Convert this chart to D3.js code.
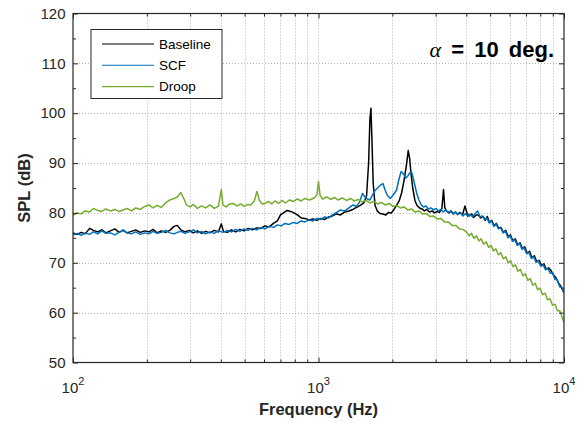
<!DOCTYPE html>
<html>
<head>
<meta charset="utf-8">
<script src="https://cdn.jsdelivr.net/npm/d3@7"></script>
<style>
  body { margin: 0; background: #fff; }
  svg { display: block; font-family: "Liberation Sans", Arial, Helvetica, sans-serif; }
  .grid line { stroke: #b4b4b4; stroke-width: 1; stroke-dasharray: 1 2; }
  .tick line { stroke: #262626; }
  .series { fill: none; stroke-width: 1.5; stroke-linejoin: round; }
</style>
</head>
<body>
<script>
// spectra, [frequency Hz, SPL dB]
var baseline = [
  [100,76.0],[104,75.7],[108,76.1],[112,75.8],[117,76.9],[121,76.5],[126,76.2],[131,76.6],[136,76.0],[142,76.4],
  [148,76.8],[154,76.1],[160,76.5],[166,76.0],[173,76.3],[180,76.6],[188,76.1],[196,76.4],[204,76.2],[212,76.7],
  [220,76.0],[229,76.4],[238,76.1],[248,76.5],[258,77.3],[266,77.5],[275,76.6],[286,76.2],[297,76.5],[309,76.0],
  [321,76.4],[334,75.9],[347,76.3],[361,76.0],[376,76.5],[391,76.2],[402,77.8],[410,76.3],[425,76.1],[442,76.6],
  [460,76.2],[478,76.7],[497,76.4],[517,76.9],[538,76.6],[560,77.0],[582,76.9],[605,77.4],[630,77.2],[655,77.9],
  [680,78.4],[700,79.6],[720,80.0],[745,80.5],[770,80.3],[795,80.0],[820,79.6],[850,79.0],[880,78.9],[915,78.6],
  [950,78.8],[985,78.5],[1020,78.9],[1060,78.7],[1100,79.2],[1140,79.4],[1185,79.8],[1230,79.6],[1280,80.2],[1330,80.4],
  [1380,80.7],[1430,81.1],[1480,81.5],[1530,82.0],[1570,83.5],[1600,90.0],[1620,99.0],[1635,101.0],[1650,95.0],[1670,86.0],
  [1700,81.5],[1740,80.3],[1780,79.9],[1830,79.8],[1880,79.6],[1930,80.1],[1980,80.0],[2030,80.7],[2080,81.5],[2130,82.4],
  [2180,84.0],[2230,86.5],[2280,89.5],[2320,92.5],[2350,91.0],[2380,88.0],[2420,85.0],[2470,82.5],[2520,81.5],[2580,81.0],
  [2640,80.8],[2700,80.4],[2760,80.7],[2830,80.2],[2900,80.4],[2970,80.0],[3040,80.3],[3110,80.1],[3180,80.8],[3230,84.7],
  [3270,81.0],[3330,80.3],[3400,80.0],[3470,80.4],[3540,79.8],[3610,80.2],[3690,79.7],[3770,80.1],[3860,79.6],[3950,81.4],
  [4030,79.9],[4110,79.4],[4200,79.8],[4290,79.1],[4380,79.6],[4480,79.6],[4580,79.0],[4680,79.3],[4780,78.5],[4870,79.3],
  [4970,78.1],[5080,78.5],[5190,77.4],[5300,77.9],[5420,76.9],[5540,77.1],[5660,76.1],[5790,76.5],[5920,75.2],[6050,75.6],
  [6190,74.4],[6330,74.8],[6470,73.6],[6620,74.0],[6770,72.8],[6920,73.2],[7080,71.9],[7240,72.3],[7400,71.0],[7570,71.4],
  [7740,70.2],[7920,70.5],[8100,69.4],[8280,69.8],[8470,68.7],[8660,69.0],[8860,68.4],[9060,67.6],[9270,67.0],[9480,66.0],
  [9700,65.3],[10000,64.0]
];

var scf = [
  [100,75.6],[104,75.9],[108,75.5],[112,76.0],[117,75.7],[121,76.2],[126,75.8],[131,76.4],[136,75.9],[142,76.0],
  [148,75.6],[154,76.1],[160,76.6],[166,76.0],[173,75.8],[180,76.2],[188,75.7],[196,76.0],[204,75.8],[212,76.3],
  [220,75.9],[229,76.1],[238,76.5],[248,76.0],[258,75.8],[266,76.1],[275,76.3],[286,75.9],[297,76.2],[309,76.6],
  [321,76.0],[334,76.3],[347,75.8],[361,76.2],[376,75.9],[391,76.4],[410,76.1],[425,76.5],[442,76.2],[460,76.7],
  [478,76.3],[497,76.8],[517,76.5],[538,76.9],[560,76.6],[582,77.1],[605,76.8],[630,77.3],[655,77.1],[680,77.6],
  [705,77.4],[730,77.9],[760,77.7],[790,78.1],[820,77.9],[850,78.4],[880,78.2],[915,78.6],[950,78.4],[985,78.9],
  [1020,78.7],[1060,79.2],[1100,79.0],[1140,79.6],[1185,80.1],[1230,80.6],[1280,80.4],[1330,81.0],[1380,81.6],[1430,81.3],
  [1470,82.2],[1510,83.9],[1545,83.2],[1580,82.8],[1620,82.6],[1660,83.6],[1700,84.5],[1740,85.0],[1790,85.6],[1830,85.9],
  [1870,84.5],[1910,83.5],[1960,82.9],[2000,83.4],[2040,84.0],[2080,84.6],[2120,86.5],[2170,88.3],[2220,87.8],[2270,87.0],
  [2310,87.4],[2350,88.0],[2390,88.3],[2430,87.0],[2470,85.5],[2510,84.0],[2560,82.7],[2620,81.6],[2680,81.2],[2740,81.4],
  [2800,80.8],[2870,81.0],[2940,80.6],[3010,80.9],[3080,80.4],[3150,80.7],[3230,80.2],[3300,80.6],[3380,80.1],[3460,80.4],
  [3540,79.8],[3620,80.2],[3700,79.7],[3790,80.0],[3880,79.4],[3970,79.9],[4060,79.3],[4150,79.7],[4250,79.2],[4350,79.9],
  [4450,80.4],[4550,79.2],[4650,79.4],[4750,78.6],[4850,79.0],[4960,78.0],[5070,78.4],[5180,77.3],[5290,77.8],[5410,76.8],
  [5530,77.0],[5650,76.0],[5780,76.3],[5910,75.0],[6040,75.4],[6170,74.3],[6310,74.6],[6450,73.5],[6590,73.9],[6740,72.7],
  [6890,73.0],[7040,71.8],[7200,72.1],[7360,70.9],[7520,71.2],[7690,70.1],[7860,70.4],[8040,69.3],[8220,69.6],[8400,68.6],
  [8590,68.9],[8780,67.9],[8980,68.0],[9180,66.7],[9390,66.6],[9600,65.2],[9810,65.0],[10000,63.9]
];

var droop = [
  [100,79.5],[104,80.0],[108,79.8],[112,80.4],[117,80.2],[121,80.9],[126,80.5],[131,80.3],[136,80.8],[142,80.4],
  [148,80.7],[154,80.3],[160,80.6],[166,80.9],[173,80.4],[180,81.0],[188,80.7],[196,81.3],[204,81.6],[212,81.0],
  [220,81.5],[229,81.1],[238,82.0],[248,82.6],[258,82.9],[266,83.2],[275,84.1],[282,83.0],[290,81.6],[300,81.2],
  [310,81.7],[321,80.9],[334,81.4],[347,81.0],[361,81.6],[376,80.9],[391,81.3],[402,84.7],[408,81.6],[420,81.2],
  [435,81.8],[450,81.9],[465,81.4],[482,81.8],[498,81.3],[515,81.7],[530,81.6],[548,82.4],[561,84.3],[575,82.5],
  [590,81.8],[606,81.9],[625,82.3],[645,81.8],[665,82.4],[688,81.9],[710,82.5],[735,82.0],[760,82.6],[790,82.3],
  [820,82.8],[850,82.4],[880,82.9],[920,82.6],[960,83.0],[985,83.6],[1000,86.3],[1015,83.5],[1040,82.8],[1080,83.2],
  [1120,82.7],[1160,83.1],[1200,82.6],[1250,83.0],[1300,82.5],[1350,82.9],[1400,82.4],[1450,82.7],[1500,82.2],[1560,82.5],
  [1620,82.0],[1680,82.3],[1740,81.8],[1800,82.1],[1870,81.6],[1940,81.9],[2010,81.3],[2080,81.5],[2150,81.0],[2230,81.2],
  [2310,80.6],[2390,80.8],[2470,80.2],[2560,80.4],[2650,79.8],[2740,79.9],[2840,79.3],[2940,79.4],[3040,78.8],[3150,78.9],
  [3260,78.2],[3380,78.2],[3500,77.5],[3620,77.5],[3750,76.8],[3880,76.7],[4020,76.1],[4110,75.4],[4200,75.9],[4300,74.9],
  [4400,75.4],[4500,74.4],[4600,74.8],[4710,73.7],[4820,74.2],[4930,73.1],[5040,73.5],[5160,72.4],[5280,72.8],[5400,71.6],
  [5530,72.0],[5660,70.8],[5790,71.2],[5920,70.0],[6060,70.4],[6200,69.2],[6340,69.6],[6490,68.3],[6640,68.7],[6800,67.4],
  [6960,67.8],[7120,66.5],[7290,66.8],[7460,65.5],[7630,65.9],[7810,64.6],[7990,64.9],[8180,63.6],[8370,63.9],[8570,62.6],
  [8770,62.8],[8980,61.5],[9190,61.7],[9400,60.4],[9620,60.4],[9840,59.0],[10000,58.0]
];

var seriesNames = ["Baseline", "SCF", "Droop"];
var seriesColors = ["#000000", "#0072bd", "#77ac30"];

var xTicks = [100, 1000, 10000];
var xMinor = [200, 300, 400, 500, 600, 700, 800, 900, 2000, 3000, 4000, 5000, 6000, 7000, 8000, 9000];
var yTicks = [50, 60, 70, 80, 90, 100, 110, 120];
var yMinor = [55, 65, 75, 85, 95, 105, 115];

var width = 585,
  height = 425;
var plotL = 73, plotR = 564, plotT = 13.5, plotB = 362.5;

var x = d3.scaleLog().domain([100, 10000]).range([plotL, plotR]);
var y = d3.scaleLinear().domain([50, 120]).range([plotB, plotT]);

var svg = d3.select("body").append("svg")
  .attr("width", width)
  .attr("height", height);

svg.append("defs").append("clipPath").attr("id", "plot")
  .append("rect")
  .attr("x", plotL).attr("y", plotT)
  .attr("width", plotR - plotL).attr("height", plotB - plotT);

// dotted grid: decades plus minor decades on x, every 10 dB on y
var grid = svg.append("g").attr("class", "grid");
grid.selectAll(".gx")
  .data(xTicks.concat(xMinor).filter(function(d) { return d > 100 && d < 10000; }))
  .enter().append("line")
  .attr("x1", function(d) { return Math.round(x(d)) + 0.5; })
  .attr("x2", function(d) { return Math.round(x(d)) + 0.5; })
  .attr("y1", plotT).attr("y2", plotB);
grid.selectAll(".gy")
  .data(yTicks.filter(function(d) { return d > 50 && d < 120; }))
  .enter().append("line")
  .attr("y1", function(d) { return Math.round(y(d)) + 0.5; })
  .attr("y2", function(d) { return Math.round(y(d)) + 0.5; })
  .attr("x1", plotL).attr("x2", plotR);

var line = d3.line()
  .x(function(d) { return x(d[0]); })
  .y(function(d) { return y(d[1]); });

var plot = svg.append("g").attr("clip-path", "url(#plot)");
[baseline, scf, droop].forEach(function(data, i) {
  plot.append("path")
    .datum(data)
    .attr("class", "series")
    .attr("stroke", seriesColors[i])
    .attr("d", line);
});

// ticks on all four sides, pointing inwards
function ticks(axis, values, size, transform) {
  var g = svg.append("g")
    .attr("transform", transform)
    .call(axis.tickValues(values).tickSizeInner(-size).tickSizeOuter(0).tickFormat(""));
  g.select(".domain").remove();
  g.selectAll("text").remove();
  return g;
}
ticks(d3.axisBottom(x), xTicks, 5, "translate(0," + plotB + ")");
ticks(d3.axisBottom(x), xMinor, 3, "translate(0," + plotB + ")");
ticks(d3.axisTop(x), xTicks, 5, "translate(0," + plotT + ")");
ticks(d3.axisTop(x), xMinor, 3, "translate(0," + plotT + ")");
ticks(d3.axisLeft(y), yTicks, 5, "translate(" + plotL + ",0)");
ticks(d3.axisLeft(y), yMinor, 3, "translate(" + plotL + ",0)");
ticks(d3.axisRight(y), yTicks, 5, "translate(" + plotR + ",0)");
ticks(d3.axisRight(y), yMinor, 3, "translate(" + plotR + ",0)");

svg.append("rect")
  .attr("x", plotL).attr("y", plotT)
  .attr("width", plotR - plotL).attr("height", plotB - plotT)
  .attr("fill", "none")
  .attr("stroke", "#262626")
  .attr("stroke-width", 1.2);

// tick labels
svg.append("g").selectAll("text")
  .data(yTicks)
  .enter().append("text")
  .attr("x", plotL - 7.5)
  .attr("y", function(d) { return y(d); })
  .attr("dy", "0.35em")
  .attr("text-anchor", "end")
  .attr("fill", "#262626")
  .style("font-size", "15px")
  .text(function(d) { return d; });

var xl = svg.append("g").selectAll("text")
  .data(xTicks)
  .enter().append("text")
  .attr("x", function(d) { return x(d); })
  .attr("y", 393)
  .attr("text-anchor", "middle")
  .attr("fill", "#262626")
  .style("font-size", "15px");
xl.append("tspan").text("10");
xl.append("tspan")
  .attr("dy", -8)
  .style("font-size", "11px")
  .text(function(d) { return Math.round(Math.log10(d)); });

// axis titles
svg.append("text")
  .attr("x", (plotL + plotR) / 2)
  .attr("y", 415)
  .attr("text-anchor", "middle")
  .attr("fill", "#262626")
  .style("font-size", "16.5px")
  .style("font-weight", "bold")
  .text("Frequency (Hz)");

svg.append("text")
  .attr("transform", "translate(30," + (plotT + plotB) / 2 + ") rotate(-90)")
  .attr("text-anchor", "middle")
  .attr("fill", "#262626")
  .style("font-size", "16.5px")
  .style("font-weight", "bold")
  .text("SPL (dB)");

// legend
var legend = svg.append("g");
legend.append("rect")
  .attr("x", 91).attr("y", 29.5)
  .attr("width", 131).attr("height", 69)
  .attr("fill", "#fff")
  .attr("stroke", "#262626")
  .attr("stroke-width", 1);
seriesNames.forEach(function(name, i) {
  var ly = 44 + i * 21.3;
  legend.append("line")
    .attr("x1", 102).attr("x2", 154)
    .attr("y1", ly).attr("y2", ly)
    .attr("stroke", seriesColors[i])
    .attr("stroke-width", 1.1);
  legend.append("text")
    .attr("x", 159).attr("y", ly)
    .attr("dy", "0.35em")
    .attr("fill", "#000")
    .style("font-size", "13.5px")
    .text(name);
});

// angle annotation
var note = svg.append("text")
  .attr("x", 554)
  .attr("y", 57)
  .attr("text-anchor", "end")
  .attr("fill", "#000")
  .style("font-size", "22px")
  .style("word-spacing", "4px");
note.append("tspan")
  .style("font-family", "'Liberation Serif', 'Times New Roman', serif")
  .style("font-style", "italic")
  .text("\u03b1");
note.append("tspan")
  .style("font-weight", "bold")
  .text(" = 10 deg.");
</script>
</body>
</html>
